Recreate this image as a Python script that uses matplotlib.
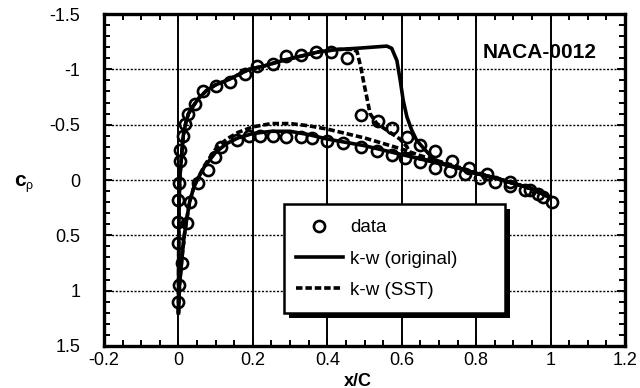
import matplotlib
matplotlib.use('Agg')
import matplotlib.pyplot as plt
import matplotlib.patches as mpatches
import matplotlib.patheffects as pe
from matplotlib.ticker import MultipleLocator

plt.rcParams['font.family'] = ['Liberation Sans', 'DejaVu Sans']
plt.rcParams['axes.unicode_minus'] = False

# k-w (original), upper surface and lower surface
orig_x_upper = [0.0, 0.0005, 0.001, 0.002, 0.004, 0.009, 0.013, 0.02, 0.027, 0.04, 0.055, 0.076,
                0.1, 0.13, 0.16, 0.19, 0.23, 0.28, 0.33, 0.38, 0.43, 0.48, 0.52, 0.56, 0.573,
                0.587, 0.596, 0.604, 0.614, 0.627, 0.64, 0.658, 0.68, 0.70, 0.75, 0.8, 0.85,
                0.9, 0.95, 1.0]
orig_cp_upper = [1.2, 0.8, 0.5, 0.2, -0.03, -0.24, -0.40, -0.52, -0.60, -0.67, -0.74, -0.81,
                 -0.86, -0.90, -0.95, -1.0, -1.03, -1.08, -1.12, -1.16, -1.18, -1.19, -1.20, -1.21,
                 -1.19, -1.08, -0.90, -0.72, -0.57, -0.45, -0.36, -0.29, -0.21, -0.16, -0.11,
                 -0.06, -0.02, 0.03, 0.08, 0.16]
orig_x_lower = [0.0, 0.003, 0.009, 0.015, 0.022, 0.03, 0.04, 0.05, 0.07, 0.1, 0.13, 0.16, 0.2,
                0.25, 0.3, 0.35, 0.4, 0.45, 0.5, 0.55, 0.6, 0.65, 0.7, 0.75, 0.8, 0.85, 0.9,
                0.95, 1.0]
orig_cp_lower = [1.2, 0.95, 0.72, 0.52, 0.36, 0.2, 0.08, 0.0, -0.12, -0.25, -0.33, -0.38, -0.42,
                 -0.44, -0.44, -0.41, -0.37, -0.34, -0.31, -0.27, -0.23, -0.19, -0.15, -0.11,
                 -0.06, -0.02, 0.03, 0.08, 0.16]

# k-w (SST)
sst_x_upper = [0.0, 0.0005, 0.001, 0.002, 0.004, 0.009, 0.013, 0.02, 0.027, 0.04, 0.055, 0.076,
               0.1, 0.13, 0.16, 0.19, 0.23, 0.28, 0.33, 0.38, 0.43, 0.47, 0.48, 0.49, 0.498,
               0.506, 0.515, 0.533, 0.56, 0.595, 0.614, 0.625, 0.65, 0.7, 0.75, 0.8, 0.85,
               0.9, 0.95, 1.0]
sst_cp_upper = [1.2, 0.8, 0.5, 0.2, -0.03, -0.24, -0.40, -0.52, -0.60, -0.67, -0.74, -0.81,
                -0.86, -0.90, -0.95, -1.0, -1.03, -1.08, -1.12, -1.16, -1.18, -1.18, -1.16, -1.02,
                -0.88, -0.75, -0.60, -0.51, -0.45, -0.37, -0.30, -0.22, -0.19, -0.16, -0.11,
                -0.06, -0.02, 0.03, 0.08, 0.16]
sst_x_lower = [0.0, 0.003, 0.009, 0.015, 0.022, 0.03, 0.04, 0.05, 0.07, 0.1, 0.13, 0.16, 0.2,
               0.25, 0.3, 0.35, 0.4, 0.45, 0.5, 0.55, 0.6, 0.65, 0.7, 0.75, 0.8, 0.85, 0.9,
               0.95, 1.0]
sst_cp_lower = [1.2, 0.95, 0.72, 0.52, 0.36, 0.2, 0.08, 0.0, -0.13, -0.28, -0.37, -0.43, -0.48,
                -0.51, -0.51, -0.49, -0.46, -0.42, -0.38, -0.33, -0.28, -0.22, -0.17, -0.12,
                -0.06, -0.02, 0.03, 0.08, 0.16]

# measured pressure coefficients
data_x_upper = [0.0, 0.001, 0.009, 0.0, 0.0, 0.0, 0.001, 0.004, 0.004, 0.012, 0.018, 0.027,
                0.045, 0.067, 0.10, 0.139, 0.18, 0.21, 0.255, 0.29, 0.33, 0.37, 0.41, 0.452,
                0.49, 0.537, 0.573, 0.614, 0.65, 0.69, 0.734, 0.78, 0.83, 0.89, 0.945, 0.98,
                1.003]
data_cp_upper = [1.10, 0.95, 0.75, 0.57, 0.38, 0.18, 0.03, -0.17, -0.27, -0.40, -0.51, -0.60,
                 -0.69, -0.80, -0.85, -0.89, -0.96, -1.03, -1.05, -1.12, -1.13, -1.16, -1.16,
                 -1.10, -0.59, -0.53, -0.47, -0.39, -0.32, -0.26, -0.17, -0.11, -0.05, 0.015,
                 0.09, 0.15, 0.20]
data_x_lower = [0.022, 0.031, 0.053, 0.08, 0.098, 0.115, 0.157, 0.19, 0.22, 0.255, 0.29, 0.33,
                0.36, 0.40, 0.443, 0.49, 0.533, 0.573, 0.61, 0.65, 0.69, 0.73, 0.77, 0.81,
                0.85, 0.89, 0.93, 0.965]
data_cp_lower = [0.39, 0.20, 0.03, -0.09, -0.21, -0.30, -0.36, -0.40, -0.40, -0.40, -0.39,
                 -0.39, -0.38, -0.35, -0.33, -0.30, -0.26, -0.23, -0.20, -0.16, -0.11, -0.08,
                 -0.05, -0.02, 0.02, 0.05, 0.09, 0.13]

x_ticks = [-0.2, 0, 0.2, 0.4, 0.6, 0.8, 1, 1.2]
x_tick_labels = ['-0.2', '0', '0.2', '0.4', '0.6', '0.8', '1', '1.2']
y_ticks = [-1.5, -1, -0.5, 0, 0.5, 1, 1.5]
y_tick_labels = ['-1.5', '-1', '-0.5', '0', '0.5', '1', '1.5']

fig = plt.figure(figsize=(6.4, 3.88), dpi=100)
ax = fig.add_axes([104 / 640, 1 - 346 / 388, 521 / 640, 332 / 388])

# grid: solid verticals, dotted horizontals
for xv in x_ticks[1:-1]:
    ax.axvline(xv, color='black', lw=1.4, zorder=1)
for yv in y_ticks[1:-1]:
    ax.axhline(yv, color='black', lw=1.0, ls=(0, (1.5, 1.2)), zorder=1)

line_kw = dict(color='black', lw=2.6, zorder=3)
dash = (0, (1.8, 0.8))
h_orig, = ax.plot(orig_x_upper, orig_cp_upper, **line_kw)
ax.plot(orig_x_lower, orig_cp_lower, **line_kw)
h_sst, = ax.plot(sst_x_upper, sst_cp_upper, ls=dash, **line_kw)
ax.plot(sst_x_lower, sst_cp_lower, ls=dash, **line_kw)

mk_kw = dict(ls='none', marker='o', ms=8, mew=1.9, mec='black', mfc='none', zorder=4)
h_data, = ax.plot(data_x_upper, data_cp_upper, **mk_kw)
ax.plot(data_x_lower, data_cp_lower, **mk_kw)

ax.set_xlim(-0.2, 1.2)
ax.set_ylim(1.5, -1.5)
ax.set_xticks(x_ticks)
ax.set_xticklabels(x_tick_labels)
ax.set_yticks(y_ticks)
ax.set_yticklabels(y_tick_labels)
ax.xaxis.set_minor_locator(MultipleLocator(0.05))
ax.yaxis.set_minor_locator(MultipleLocator(0.1))
ax.tick_params(which='both', direction='in', top=True, right=True, width=1.4, color='black')
ax.tick_params(which='major', length=6)
ax.tick_params(which='minor', length=4)
ax.tick_params(axis='x', which='major', labelsize=13, pad=4)
ax.tick_params(axis='y', which='major', labelsize=13, pad=17)
for sp in ax.spines.values():
    sp.set_linewidth(2.4)

ax.text(0.945, 0.885, 'NACA-0012', transform=ax.transAxes, ha='right', va='center',
        fontsize=15, fontweight='bold', zorder=6)

fig.text(14 / 640, 1 - 180 / 388, 'c', fontsize=15, fontweight='bold', ha='left', va='center')
fig.text(25 / 640, 1 - 186 / 388, 'ρ', fontsize=9, ha='left', va='center')
fig.text(358 / 640, 1 - 381 / 388, 'x/C', fontsize=13, fontweight='bold', ha='center', va='center')

# legend box with a solid drop shadow
box = mpatches.Rectangle(((284 - 104) / 521, (346 - 313) / 332), 221 / 521, 109 / 332,
                         transform=ax.transAxes, facecolor='white', edgecolor='black', lw=1.8,
                         zorder=7)
box.set_path_effects([pe.SimplePatchShadow(offset=(3.5, -3.5), shadow_rgbFace='black', alpha=1),
                      pe.Normal()])
ax.add_patch(box)

leg = ax.legend([h_data, h_orig, h_sst], ['data', 'k-w (original)', 'k-w (SST)'],
                loc='upper left', bbox_to_anchor=((296 - 104) / 521, (346 - 219) / 332),
                frameon=False, fontsize=13.5, numpoints=1, handlelength=2.5,
                handletextpad=0.4, labelspacing=0.76, borderpad=0, borderaxespad=0)
leg.set_zorder(8)

fig.savefig('out.png', dpi=100)
